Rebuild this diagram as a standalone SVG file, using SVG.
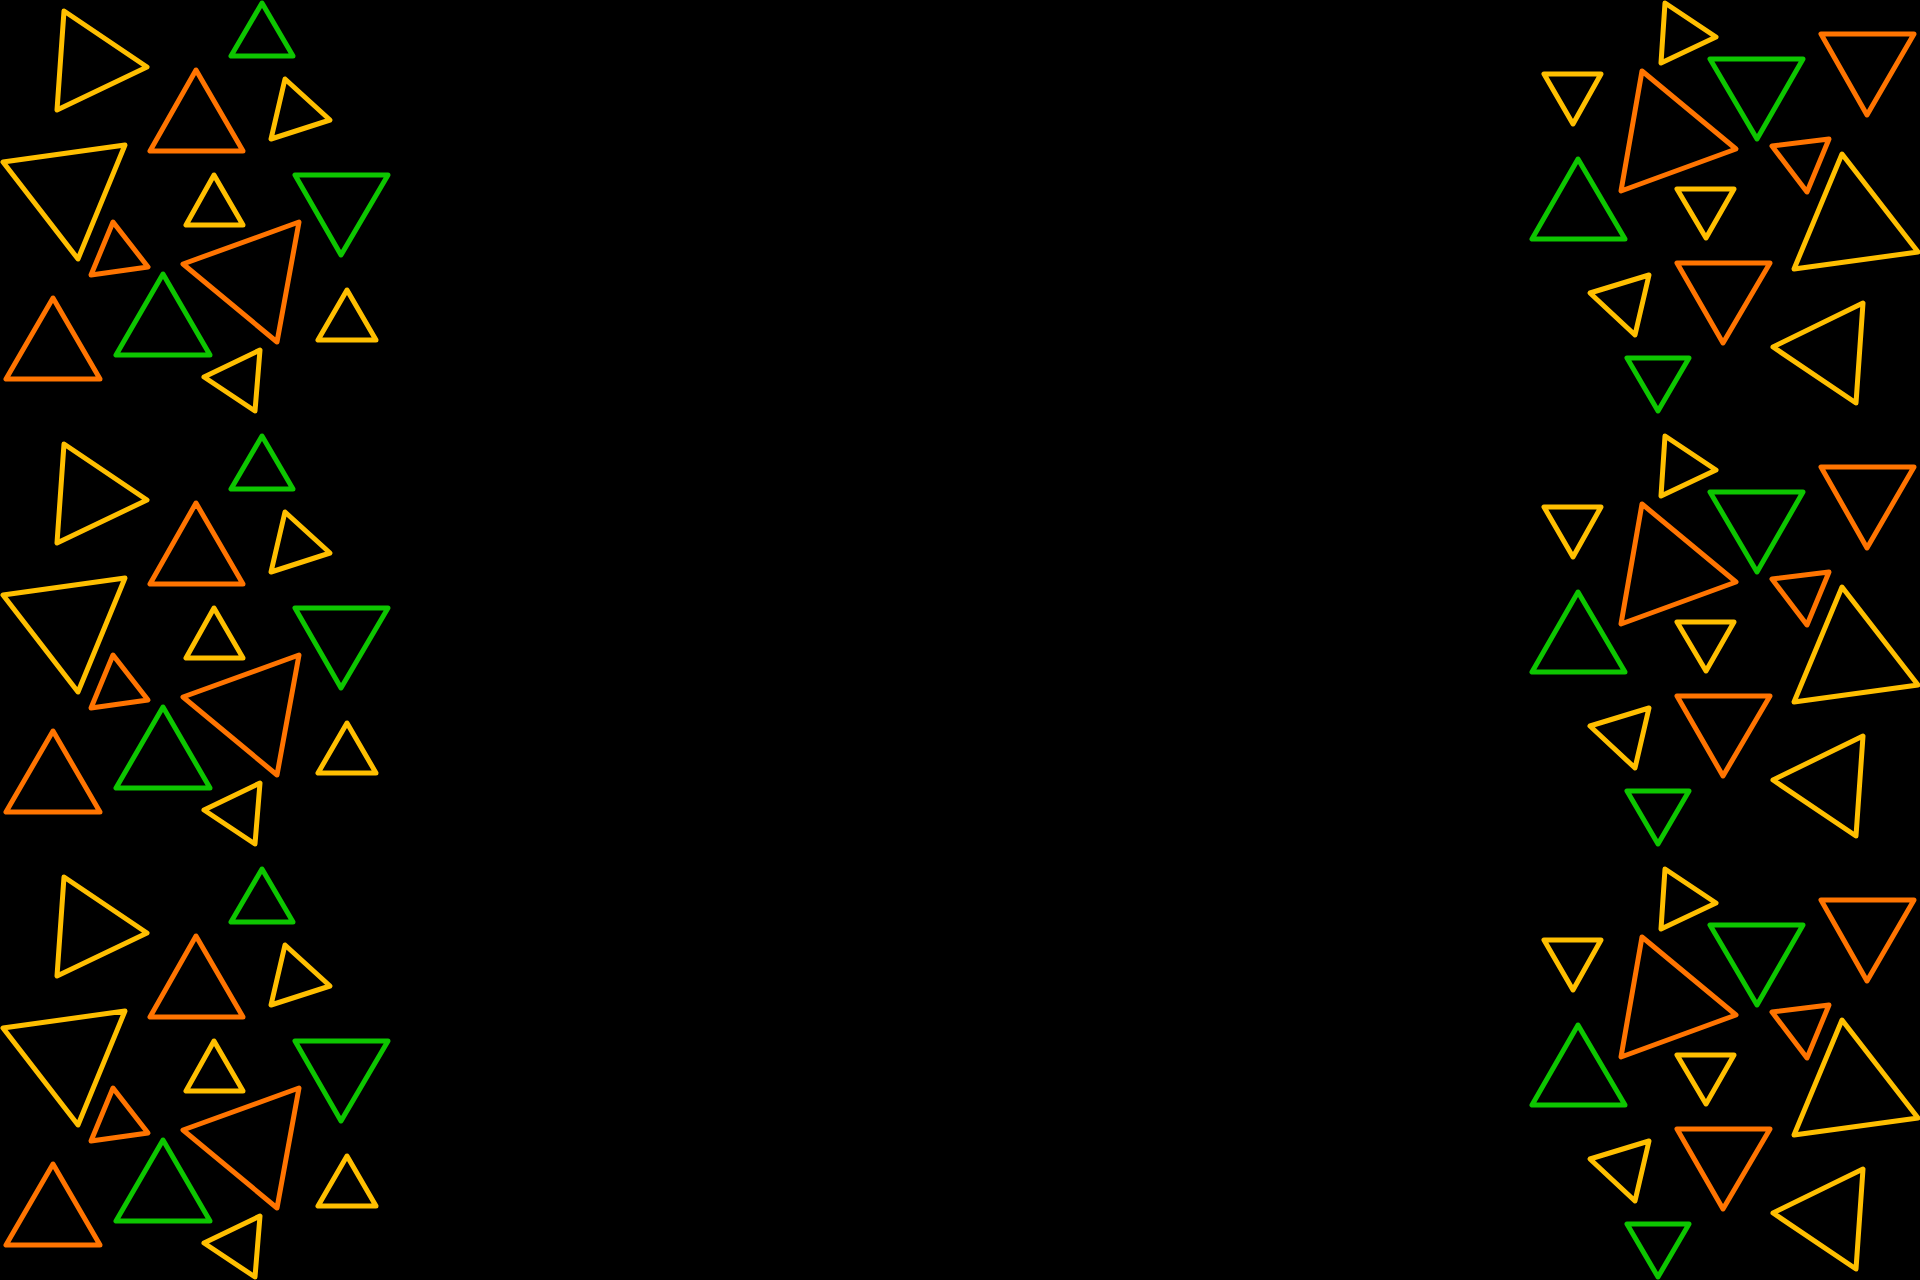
<svg xmlns="http://www.w3.org/2000/svg" xmlns:xlink="http://www.w3.org/1999/xlink" width="1920" height="1280" viewBox="0 0 1920 1280">
<style>
polygon{fill:none;stroke-width:5;stroke-linejoin:round}
.y{stroke:#FFBF00}
.o{stroke:#FF7400}
.g{stroke:#0DC600}
</style>
<defs>
<g id="leftTile">
<polygon class="y" points="64,11 147,67 57,110"/>
<polygon class="g" points="262,3 231,56 293,56"/>
<polygon class="o" points="196,70 150,151 243,151"/>
<polygon class="y" points="285,79 330,120 271,139"/>
<polygon class="y" points="3,162 125,145 78,259"/>
<polygon class="y" points="214,175 186,225 243,225"/>
<polygon class="g" points="295,175 388,175 341,255"/>
<polygon class="o" points="113,222 148,267 91,275"/>
<polygon class="o" points="183,264 299,222 277,342"/>
<polygon class="g" points="163,274 116,355 210,355"/>
<polygon class="y" points="347,290 318,340 376,340"/>
<polygon class="o" points="53,298 6,379 100,379"/>
<polygon class="y" points="204,377 260,350 255,411"/>
</g>
<g id="rightTile">
<polygon class="y" points="1665,3 1716,37 1661,63"/>
<polygon class="o" points="1821,34 1914,34 1867,115"/>
<polygon class="g" points="1710,59 1803,59 1757,139"/>
<polygon class="y" points="1544,74 1601,74 1573,124"/>
<polygon class="o" points="1642,71 1736,149 1621,191"/>
<polygon class="o" points="1772,146 1829,139 1807,192"/>
<polygon class="g" points="1578,159 1532,239 1625,239"/>
<polygon class="y" points="1677,189 1734,189 1706,238"/>
<polygon class="y" points="1842,154 1918,252 1794,269"/>
<polygon class="y" points="1590,293 1649,275 1635,335"/>
<polygon class="o" points="1677,263 1770,263 1723,343"/>
<polygon class="y" points="1773,347 1863,303 1856,403"/>
<polygon class="g" points="1627,358 1689,358 1658,411"/>
</g>
</defs>
<rect width="1920" height="1280" fill="#000"/>
<g id="left">
<use xlink:href="#leftTile"/>
<use xlink:href="#leftTile" transform="translate(0,433)"/>
<use xlink:href="#leftTile" transform="translate(0,866)"/>
</g>
<g id="right">
<use xlink:href="#rightTile"/>
<use xlink:href="#rightTile" transform="translate(0,433)"/>
<use xlink:href="#rightTile" transform="translate(0,866)"/>
</g>
</svg>
